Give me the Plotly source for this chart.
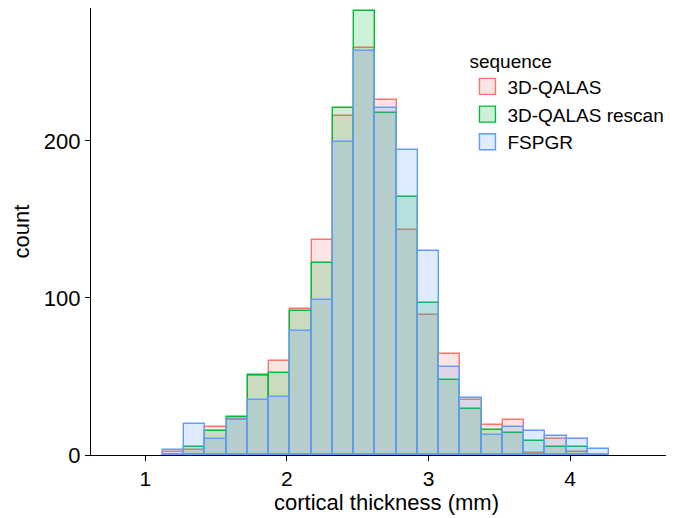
import plotly.graph_objects as go

# Bin centres (bin width 0.15 mm)
bin_centers = [1.2, 1.35, 1.5, 1.65, 1.8, 1.95, 2.1, 2.25, 2.4, 2.55, 2.7,
               2.85, 3.0, 3.15, 3.3, 3.45, 3.6, 3.75, 3.9, 4.05, 4.2]
bin_width = 0.15

qalas = [2, 3, 18, 23, 50, 60, 93, 137, 216, 259, 226,
         143, 89, 64, 35, 19, 22, 1, 10, 2, 0]
qalas_rescan = [0, 5, 15, 24, 51, 52, 92, 122, 221, 283, 218,
                164, 97, 48, 29, 16, 14, 9, 5, 5, 0]
fspgr = [3, 20, 10, 22, 35, 37, 79, 99, 199, 257, 221,
         194, 130, 56, 36, 13, 18, 15, 12, 10, 4]

series_names = ["3D-QALAS", "3D-QALAS rescan", "FSPGR"]
series_values = [qalas, qalas_rescan, fspgr]
line_colors = ["#F8766D", "#00BA38", "#619CFF"]
fill_colors = ["rgba(248,118,109,0.2)", "rgba(0,186,56,0.2)", "rgba(97,156,255,0.2)"]

x_ticks = [1, 2, 3, 4]
y_ticks = [0, 100, 200]

FONT = "Liberation Sans, Arial, Helvetica, sans-serif"

fig = go.Figure()
for name, vals, lc, fc in zip(series_names, series_values, line_colors, fill_colors):
    fig.add_trace(go.Bar(
        x=bin_centers, y=vals, width=bin_width, name=name,
        marker=dict(color=fc, line=dict(color=lc, width=1.4)),
        showlegend=False, hoverinfo="x+y+name",
    ))
# legend keys
for name, lc, fc in zip(series_names, line_colors, fill_colors):
    fig.add_trace(go.Scatter(
        x=[None], y=[None], mode="markers", name=name,
        marker=dict(symbol="square", size=16, color=fc, line=dict(color=lc, width=1.4)),
    ))

fig.update_layout(
    width=674, height=518,
    margin=dict(l=83, r=0, t=0, b=71),
    barmode="overlay", bargap=0,
    paper_bgcolor="white", plot_bgcolor="white",
    font=dict(family=FONT, color="black"),
    xaxis=dict(
        range=[0.617, 4.79], tickvals=x_ticks, ticktext=[str(t) for t in x_ticks],
        showgrid=False, zeroline=False, showline=True, linecolor="black", linewidth=1.3,
        ticks="outside", ticklen=5, tickwidth=1.3, tickcolor="black",
        tickfont=dict(size=21, color="black"),
        title=dict(text="cortical thickness (mm)", font=dict(size=22, color="black"), standoff=2),
    ),
    yaxis=dict(
        range=[0, 284.6], tickvals=y_ticks, ticktext=[str(t) for t in y_ticks],
        showgrid=False, zeroline=False, showline=True, linecolor="black", linewidth=1.3,
        ticks="outside", ticklen=5, tickwidth=1.3, tickcolor="black",
        tickfont=dict(size=22, color="black"),
        title=dict(text="count", font=dict(size=22, color="black"), standoff=8),
    ),
    legend=dict(
        title=dict(text="sequence", font=dict(size=19, color="black")),
        font=dict(size=19, color="black"),
        x=0.637, y=0.922, xanchor="left", yanchor="top",
        bgcolor="rgba(0,0,0,0)", tracegroupgap=0, itemsizing="trace",
    ),
)

fig.write_html("out.html")
